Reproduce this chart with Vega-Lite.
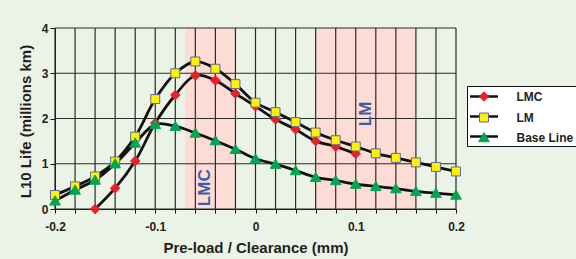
{
  "$schema": "https://vega.github.io/schema/vega-lite/v6.json",
  "width": 401,
  "height": 181,
  "autosize": "none",
  "padding": {"left": 55, "top": 28, "right": 120, "bottom": 50},
  "background": "#EAF3E6",
  "config": {
    "view": {"stroke": null},
    "font": "Liberation Sans",
    "axis": {"grid": false, "domainColor": "#111", "tickColor": "#111", "labelColor": "#231F20", "titleColor": "#231F20", "labelFont": "Liberation Sans", "titleFont": "Liberation Sans", "labelFontWeight": "bold", "titleFontWeight": "bold", "labelFontSize": 12, "titleFontSize": 15, "labelOverlap": false}
  },
  "resolve": {"axis": {"x": "independent"}},
  "datasets": {
    "series": [
      {"series": "LMC", "x": -0.16, "y": 0},
      {"series": "LMC", "x": -0.14, "y": 0.46},
      {"series": "LMC", "x": -0.12, "y": 1.06},
      {"series": "LMC", "x": -0.1, "y": 1.9},
      {"series": "LMC", "x": -0.08, "y": 2.52},
      {"series": "LMC", "x": -0.06, "y": 2.95},
      {"series": "LMC", "x": -0.04, "y": 2.84},
      {"series": "LMC", "x": -0.02, "y": 2.55},
      {"series": "LMC", "x": 0, "y": 2.27},
      {"series": "LMC", "x": 0.02, "y": 1.98},
      {"series": "LMC", "x": 0.04, "y": 1.76},
      {"series": "LMC", "x": 0.06, "y": 1.5},
      {"series": "LMC", "x": 0.08, "y": 1.38},
      {"series": "LMC", "x": 0.1, "y": 1.22},
      {"series": "LM", "x": -0.2, "y": 0.31},
      {"series": "LM", "x": -0.18, "y": 0.5},
      {"series": "LM", "x": -0.16, "y": 0.72},
      {"series": "LM", "x": -0.14, "y": 1.05},
      {"series": "LM", "x": -0.12, "y": 1.6},
      {"series": "LM", "x": -0.1, "y": 2.43},
      {"series": "LM", "x": -0.08, "y": 3.0},
      {"series": "LM", "x": -0.06, "y": 3.26},
      {"series": "LM", "x": -0.04, "y": 3.1},
      {"series": "LM", "x": -0.02, "y": 2.76},
      {"series": "LM", "x": 0, "y": 2.35},
      {"series": "LM", "x": 0.02, "y": 2.14},
      {"series": "LM", "x": 0.04, "y": 1.92},
      {"series": "LM", "x": 0.06, "y": 1.69},
      {"series": "LM", "x": 0.08, "y": 1.52},
      {"series": "LM", "x": 0.1, "y": 1.38},
      {"series": "LM", "x": 0.12, "y": 1.23},
      {"series": "LM", "x": 0.14, "y": 1.13},
      {"series": "LM", "x": 0.16, "y": 1.03},
      {"series": "LM", "x": 0.18, "y": 0.93},
      {"series": "LM", "x": 0.2, "y": 0.83},
      {"series": "Base Line", "x": -0.2, "y": 0.18},
      {"series": "Base Line", "x": -0.18, "y": 0.42},
      {"series": "Base Line", "x": -0.16, "y": 0.64},
      {"series": "Base Line", "x": -0.14, "y": 1.0},
      {"series": "Base Line", "x": -0.12, "y": 1.46},
      {"series": "Base Line", "x": -0.1, "y": 1.87},
      {"series": "Base Line", "x": -0.08, "y": 1.83},
      {"series": "Base Line", "x": -0.06, "y": 1.68},
      {"series": "Base Line", "x": -0.04, "y": 1.51},
      {"series": "Base Line", "x": -0.02, "y": 1.32},
      {"series": "Base Line", "x": 0, "y": 1.11},
      {"series": "Base Line", "x": 0.02, "y": 0.99},
      {"series": "Base Line", "x": 0.04, "y": 0.85},
      {"series": "Base Line", "x": 0.06, "y": 0.7},
      {"series": "Base Line", "x": 0.08, "y": 0.63},
      {"series": "Base Line", "x": 0.1, "y": 0.55},
      {"series": "Base Line", "x": 0.12, "y": 0.5},
      {"series": "Base Line", "x": 0.14, "y": 0.45},
      {"series": "Base Line", "x": 0.16, "y": 0.39},
      {"series": "Base Line", "x": 0.18, "y": 0.35},
      {"series": "Base Line", "x": 0.2, "y": 0.31}
    ],
    "bands": [
      {"start": -0.07, "end": -0.02},
      {"start": 0.06, "end": 0.16}
    ],
    "vgrid": [
      {"x": -0.2}, {"x": -0.18}, {"x": -0.16}, {"x": -0.14}, {"x": -0.12}, {"x": -0.1}, {"x": -0.08},
      {"x": -0.06}, {"x": -0.04}, {"x": -0.02}, {"x": 0}, {"x": 0.02}, {"x": 0.04}, {"x": 0.06},
      {"x": 0.08}, {"x": 0.1}, {"x": 0.12}, {"x": 0.14}, {"x": 0.16}, {"x": 0.18}, {"x": 0.2}
    ],
    "hgrid": [{"y": 0}, {"y": 1}, {"y": 2}, {"y": 3}, {"y": 4}],
    "notes": [
      {"text": "LMC", "x": -0.05, "y": 0.47},
      {"text": "LM", "x": 0.11, "y": 2.1}
    ]
  },
  "layer": [
    {
      "data": {"name": "bands"},
      "mark": {"type": "rect", "color": "#FCDCD5"},
      "encoding": {
        "x": {"field": "start", "type": "quantitative", "scale": {"domain": [-0.2, 0.2], "nice": false, "zero": false},
          "axis": {"orient": "bottom", "values": [-0.2,-0.18,-0.16,-0.14,-0.12,-0.1,-0.08,-0.06,-0.04,-0.02,0,0.02,0.04,0.06,0.08,0.1,0.12,0.14,0.16,0.18,0.2],
            "labels": false, "tickSize": 4, "title": null}},
        "x2": {"field": "end"}
      }
    },
    {
      "data": {"name": "vgrid"},
      "mark": {"type": "rule", "color": "#2b2b2b", "strokeWidth": 1.2},
      "encoding": {"x": {"field": "x", "type": "quantitative",
        "axis": {"orient": "bottom", "values": [-0.2, -0.1, 0, 0.1, 0.2], "ticks": false, "domain": false, "labelPadding": 12,
          "labelExpr": "replace(datum.label, '\u2212', '-')", "format": ".1~f", "labelFlush": false,
          "title": "Pre-load / Clearance (mm)", "titleBaseline": "top", "titleY": 31}}}
    },
    {
      "data": {"name": "hgrid"},
      "mark": {"type": "rule", "color": "#2b2b2b", "strokeWidth": 1.2},
      "encoding": {"y": {"field": "y", "type": "quantitative", "scale": {"domain": [0, 4], "nice": false},
        "axis": {"values": [0, 1, 2, 3, 4], "tickSize": 5, "labelPadding": 2, "title": "L10 Life (millions km)", "titleX": -30, "titleY": 93, "titleAngle": 270, "titleBaseline": "middle", "titleAlign": "center"}}}
    },
    {
      "data": {"name": "notes"},
      "mark": {"type": "text", "angle": 270, "align": "center", "baseline": "middle", "font": "Liberation Sans", "fontWeight": "bold", "fontSize": 17, "color": "#3D5CA8"},
      "encoding": {
        "x": {"field": "x", "type": "quantitative", "axis": null},
        "y": {"field": "y", "type": "quantitative"},
        "text": {"field": "text"}
      }
    },
    {
      "data": {"name": "series"},
      "mark": {"type": "line", "strokeWidth": 2.8, "interpolate": "catmull-rom"},
      "encoding": {
        "x": {"field": "x", "type": "quantitative", "axis": null},
        "y": {"field": "y", "type": "quantitative"},
        "color": {"field": "series", "type": "nominal", "sort": ["LMC", "LM", "Base Line"],
          "scale": {"range": ["#111111", "#111111", "#111111"]},
          "legend": {"orient": "none", "legendX": 412, "legendY": 58, "title": null, "padding": 3, "rowPadding": 6,
            "symbolType": "M-2.24,0H2.24", "symbolSize": 156.25, "symbolStrokeWidth": 2.5, "symbolStrokeColor": "#111111",
            "symbolOffset": 6.5, "labelOffset": 82, "labelExpr": "''", "labelFont": "Liberation Sans", "labelFontSize": 12, "labelFontWeight": "bold",
            "fillColor": "#FFFFFF", "strokeColor": "#111111"}}
      }
    },
    {
      "data": {"name": "series"},
      "mark": {"type": "point", "filled": true, "opacity": 1, "size": 196, "strokeWidth": 1},
      "encoding": {
        "x": {"field": "x", "type": "quantitative", "axis": null},
        "y": {"field": "y", "type": "quantitative"},
        "fill": {"field": "series", "type": "nominal",
          "scale": {"domain": ["LMC", "LM", "Base Line"], "range": ["#E8202A", "#FFF200", "#00A651"]},
          "legend": {"orient": "none", "legendX": 412, "legendY": 58, "title": null, "padding": 3, "rowPadding": 6,
            "symbolSize": 196, "symbolStrokeWidth": 1, "symbolOffset": 6.5, "labelOffset": 25,
            "labelFont": "Liberation Sans", "labelFontSize": 12, "labelFontWeight": "bold", "labelColor": "#231F20"}},
        "stroke": {"field": "series", "type": "nominal",
          "scale": {"domain": ["LMC", "LM", "Base Line"], "range": ["#E8202A", "#5A6A9A", "#00A651"]},
          "legend": {"orient": "none", "legendX": 412, "legendY": 58, "title": null, "padding": 3, "rowPadding": 6,
            "symbolSize": 196, "symbolStrokeWidth": 1, "symbolOffset": 6.5, "labelOffset": 25,
            "labelFont": "Liberation Sans", "labelFontSize": 12, "labelFontWeight": "bold", "labelColor": "#231F20"}},
        "shape": {"field": "series", "type": "nominal",
          "scale": {"domain": ["LMC", "LM", "Base Line"], "range": ["M0,-0.68L0.68,0L0,0.68L-0.68,0Z", "M-0.64,-0.64H0.64V0.64H-0.64Z", "M0,-0.72L0.76,0.6L-0.76,0.6Z"]},
          "legend": {"orient": "none", "legendX": 412, "legendY": 58, "title": null, "padding": 3, "rowPadding": 6,
            "symbolSize": 196, "symbolStrokeWidth": 1, "symbolOffset": 6.5, "labelOffset": 25,
            "labelFont": "Liberation Sans", "labelFontSize": 12, "labelFontWeight": "bold", "labelColor": "#231F20"}}
      }
    }
  ]
}
